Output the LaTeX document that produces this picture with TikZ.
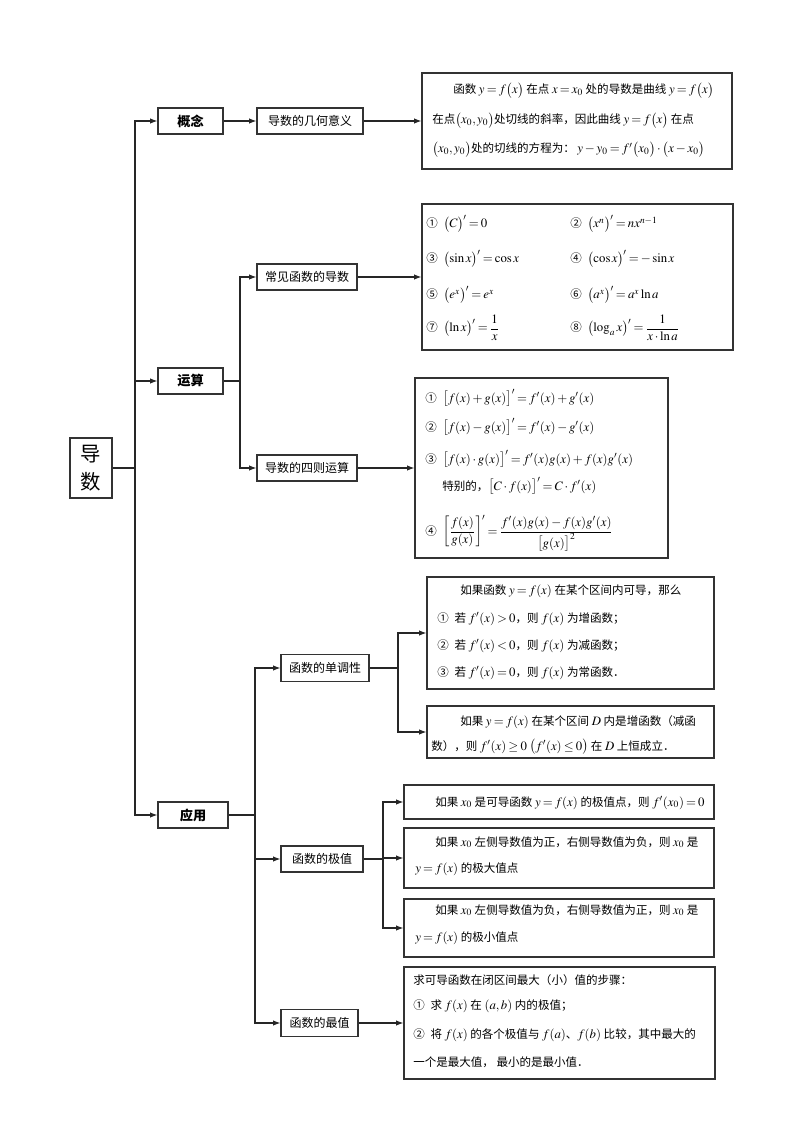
\documentclass[tikz,border=0pt]{standalone}
\usepackage{amsmath}
\usepackage{mathptmx}
\usepackage[no-math]{fontspec}
\setmainfont{Noto Sans CJK SC}[Scale=0.9]
\usetikzlibrary{arrows.meta,fit}
\thickmuskip=3mu plus 2mu
\medmuskip=2.5mu plus 1mu minus 1mu
\newcommand{\mytxtfont}{\fontsize{9.6}{12}\selectfont\spaceskip=2pt plus 1pt\relax}
\begin{document}
\begin{tikzpicture}[x=0.75pt, y=-0.75pt,
 ln/.style={line width=0.8pt, draw=black!85},
 arr/.style={ln, -{Latex[length=5.5pt,width=4pt]}},
 box/.style={draw=black!80, line width=0.8pt, inner sep=0pt, rectangle},
 lbl/.style={box, font=\fontsize{10}{12}\selectfont, minimum height=19.5pt},
 cat/.style={box, font=\fontsize{11}{13}\selectfont\bfseries, minimum height=19.5pt},
 txt/.style={anchor=base west, inner sep=0pt, font=\mytxtfont},
]
\fill[white] (0,0) rectangle (802,1126);
\useasboundingbox (0,0) rectangle (802,1126);

% root
\node[box, minimum width=31.5pt, minimum height=45pt, align=center, font=\fontsize{17}{22}\selectfont] (dao) at (91,468) {导\\[-1pt]数};

% level 1
\node[cat, minimum width=48.75pt] (gainian) at (190.5,121) {概念};
\node[cat, minimum width=48.75pt] (yunsuan) at (190.5,381) {运算};
\node[cat, minimum width=52.5pt] (yingyong) at (193,815) {应用};

% level 2
\node[lbl, minimum width=79.5pt] (jihe) at (310,121) {导数的几何意义};
\node[lbl, minimum width=75pt] (changjian) at (307,277) {常见函数的导数};
\node[lbl, minimum width=75pt] (sizhe) at (307,468) {导数的四则运算};
\node[lbl, minimum width=66pt, minimum height=20.25pt] (danzx) at (325,668) {函数的单调性};
\node[lbl, minimum width=61.5pt] (jizhi) at (322,859) {函数的极值};
\node[lbl, minimum width=57.75pt, minimum height=20.25pt] (zuizhi) at (319.5,1023) {函数的最值};

% content boxes
\node[box, fit={(422,73) (732,169)}] (b1) {};
\node[box, fit={(422,204) (733,350)}] (b2) {};
\node[box, fit={(415,378) (668,558)}] (b3) {};
\node[box, fit={(427,577) (714,689)}] (m1) {};
\node[box, fit={(427,706) (714,758)}] (m2) {};
\node[box, fit={(404,785) (714,819)}] (ea) {};
\node[box, fit={(404,828) (714,888)}] (eb) {};
\node[box, fit={(404,899) (714,957)}] (ec) {};
\node[box, fit={(404,967) (715,1079)}] (zz) {};

% connectors
\coordinate (trunk) at (135,468);
\draw[ln] (dao.east) -- (trunk);
\draw[arr] (trunk) |- (gainian.west);
\draw[arr] (trunk) |- (yunsuan.west);
\draw[arr] (trunk) |- (yingyong.west);
\draw[arr] (gainian.east) -- (jihe.west);
\draw[arr] (jihe.east) -- (jihe.east -| b1.west);

\coordinate (ys) at (240,381);
\draw[ln] (yunsuan.east) -- (ys);
\draw[arr] (ys) |- (changjian.west);
\draw[arr] (ys) |- (sizhe.west);
\draw[arr] (changjian.east) -- (changjian.east -| b2.west);
\draw[arr] (sizhe.east) -- (sizhe.east -| b3.west);

\coordinate (yy) at (255,815);
\draw[ln] (yingyong.east) -- (yy);
\draw[arr] (yy) |- (danzx.west);
\draw[arr] (yy) |- (jizhi.west);
\draw[arr] (yy) |- (zuizhi.west);

\coordinate (dz) at (398,668);
\draw[ln] (danzx.east) -- (dz);
\draw[arr] (dz) |- (m1.west);
\draw[arr] (dz) |- (m2.west);

\coordinate (jz) at (383,859);
\draw[ln] (jizhi.east) -- (jz);
\draw[arr] (jz) |- (ea.west);
\draw[arr] (jz) |- (eb.west);
\draw[arr] (jz) |- (ec.west);

\draw[arr] (zuizhi.east) -- (zuizhi.east -| zz.west);

% text of box 1
\node[txt] (t11) at (453,94) {函数 $y=f\bigl(x\bigr)$ 在点 $x=x_0$ 处的导数是曲线 $y=f\bigl(x\bigr)$};
\node[txt] (t12) at (432,124) {在点$\bigl(x_0,y_0\bigr)$处切线的斜率，因此曲线 $y=f\bigl(x\bigr)$ 在点};
\node[txt] (t13) at (432,153) {$\bigl(x_0,y_0\bigr)$处的切线的方程为： $y-y_0=f'\bigl(x_0\bigr)\cdot\bigl(x-x_0\bigr)$};

% box 2
\node[txt] (t21) at (426,228) {①\enspace $\bigl(C\bigr)'=0$};
\node[txt] (t22) at (570,228) {②\enspace $\bigl(x^n\bigr)'=nx^{n-1}$};
\node[txt] (t23) at (426,263) {③\enspace $\bigl(\sin x\bigr)'=\cos x$};
\node[txt] (t24) at (570,263) {④\enspace $\bigl(\cos x\bigr)'=-\sin x$};
\node[txt] (t25) at (426,299) {⑤\enspace $\bigl(e^x\bigr)'=e^x$};
\node[txt] (t26) at (570,299) {⑥\enspace $\bigl(a^x\bigr)'=a^x\ln a$};
\node[txt] (t27) at (426,332) {⑦\enspace $\bigl(\ln x\bigr)'=\dfrac{1}{x}$};
\node[txt] (t28) at (570,332) {⑧\enspace $\bigl(\log_a x\bigr)'=\dfrac{1}{x\cdot\ln a}$};

% box 3
\node[txt] (t31) at (425,402) {①\enspace $\bigl[f(x)+g(x)\bigr]'=f'(x)+g'(x)$};
\node[txt] (t32) at (425,431) {②\enspace $\bigl[f(x)-g(x)\bigr]'=f'(x)-g'(x)$};
\node[txt] (t33) at (425,463) {③\enspace $\bigl[f(x)\cdot g(x)\bigr]'=f'(x)g(x)+f(x)g'(x)$};
\node[txt] (t34) at (442,490) {特别的，$\bigl[C\cdot f(x)\bigr]'=C\cdot f'(x)$};
\node[txt] (t35) at (425,535) {④\enspace $\left[\dfrac{f(x)}{g(x)}\right]'=\dfrac{f'(x)g(x)-f(x)g'(x)}{\bigl[g(x)\bigr]^2}$};

% monotonic boxes
\node[txt] (t41) at (460,594) {如果函数 $y=f(x)$ 在某个区间内可导，那么};
\node[txt] (t42) at (437,622) {①\enspace 若 $f'(x)>0$，则 $f(x)$ 为增函数；};
\node[txt] (t43) at (437,649) {②\enspace 若 $f'(x)<0$，则 $f(x)$ 为减函数；};
\node[txt] (t44) at (437,676) {③\enspace 若 $f'(x)=0$，则 $f(x)$ 为常函数．};
\node[txt] (t51) at (460,725) {如果 $y=f(x)$ 在某个区间 $D$ 内是增函数（减函};
\node[txt] (t52) at (431,750) {数），则 $f'(x)\ge 0\ \bigl(f'(x)\le 0\bigr)$ 在 $D$ 上恒成立．};

% extreme value boxes
\node[txt] (t61) at (435,806) {如果 $x_0$ 是可导函数 $y=f(x)$ 的极值点，则 $f'(x_0)=0$};
\node[txt] (t62) at (435,846) {如果 $x_0$ 左侧导数值为正，右侧导数值为负，则 $x_0$ 是};
\node[txt] (t63) at (415,872) {$y=f(x)$ 的极大值点};
\node[txt] (t64) at (435,914) {如果 $x_0$ 左侧导数值为负，右侧导数值为正，则 $x_0$ 是};
\node[txt] (t65) at (415,941) {$y=f(x)$ 的极小值点};

% max/min box
\node[txt] (t71) at (413,984) {求可导函数在闭区间最大（小）值的步骤：};
\node[txt] (t72) at (413,1009) {①\enspace 求 $f(x)$ 在 $(a,b)$ 内的极值；};
\node[txt] (t73) at (413,1038) {②\enspace 将 $f(x)$ 的各个极值与 $f(a)$、$f(b)$ 比较，其中最大的};
\node[txt] (t74) at (413,1066) {一个是最大值， 最小的是最小值．};
\end{tikzpicture}
\end{document}
